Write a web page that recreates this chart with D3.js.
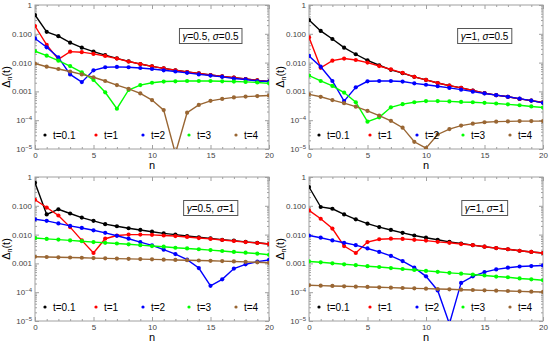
<!DOCTYPE html>
<html lang="en">
<head>
<meta charset="UTF-8">
<title>Delta_n(t) for several t</title>
<script src="https://d3js.org/d3.v7.min.js"></script>
<style>
    body {
        margin: 0;
        background: #fff;
        font-family: "Liberation Sans", Arial, sans-serif;
    }
    .frame { fill: none; stroke: #a0a0a0; stroke-width: 1; }
    .axis path.domain { display: none; }
    .axis line { stroke: #a0a0a0; }
    .axis text { font-size: 8px; fill: #444; font-family: "Liberation Sans", Arial, sans-serif; }
    .legend text { font-size: 10px; fill: #000; }
</style>
</head>
<body>
<svg id="chart" width="550" height="347"></svg>
<script>
const nValues = [0, 1, 2, 3, 4, 5, 6, 7, 8, 9, 10, 11, 12, 13, 14, 15, 16, 17, 18, 19, 20];
const seriesLabels = ["t=0.1", "t=1", "t=2", "t=3", "t=4"];
const seriesColors = ["#000000", "#ff0000", "#0000ff", "#00ff00", "#996633"];
const xTicks = [0, 5, 10, 15, 20];
const yTicks = [1, 0.1, 0.01, 0.001, 1e-4, 1e-5];
const yTickText = ["1", "0.100", "0.010", "0.001", "10^-4", "10^-5"];

// gamma=0.5, sigma=0.5
const p1_t01 = [4.5e-1, 1.17e-1, 8.3e-2, 4.9e-2, 3.3e-2, 2.4e-2, 1.82e-2, 1.41e-2, 1.10e-2, 8.9e-3, 7.4e-3, 6.3e-3, 5.4e-3, 4.7e-3, 4.2e-3, 3.7e-3, 3.3e-3, 3.0e-3, 2.7e-3, 2.4e-3, 2.2e-3];
const p1_t1 = [1.86e-1, 4.1e-2, 1.29e-2, 2.4e-2, 2.3e-2, 2.0e-2, 1.70e-2, 1.38e-2, 1.09e-2, 8.9e-3, 7.4e-3, 6.3e-3, 5.4e-3, 4.7e-3, 4.2e-3, 3.7e-3, 3.3e-3, 3.0e-3, 2.7e-3, 2.4e-3, 2.2e-3];
const p1_t2 = [6.9e-2, 3.4e-2, 1.51e-2, 3.9e-3, 2.1e-3, 5.4e-3, 6.9e-3, 7.1e-3, 6.9e-3, 6.5e-3, 6.0e-3, 5.4e-3, 4.9e-3, 4.4e-3, 3.9e-3, 3.55e-3, 3.2e-3, 2.8e-3, 2.6e-3, 2.3e-3, 2.2e-3];
const p1_t3 = [2.5e-2, 1.74e-2, 1.17e-2, 7.6e-3, 4.6e-3, 2.5e-3, 9.3e-4, 2.5e-4, 1.12e-3, 1.66e-3, 2.0e-3, 2.2e-3, 2.24e-3, 2.3e-3, 2.3e-3, 2.3e-3, 2.24e-3, 2.2e-3, 2.14e-3, 2.04e-3, 1.9e-3];
const p1_t4 = [9.3e-3, 7.2e-3, 6.0e-3, 4.9e-3, 3.9e-3, 3.1e-3, 2.3e-3, 1.66e-3, 1.23e-3, 8.5e-4, 5.0e-4, 2.24e-4, 7e-6, 1.82e-4, 3.4e-4, 4.7e-4, 5.5e-4, 6.2e-4, 6.6e-4, 6.9e-4, 7.2e-4];

// gamma=1, sigma=0.5
const p2_t01 = [3.0e-1, 1.26e-1, 6.6e-2, 3.3e-2, 1.95e-2, 1.20e-2, 8.1e-3, 5.6e-3, 4.3e-3, 3.2e-3, 2.5e-3, 1.95e-3, 1.58e-3, 1.32e-3, 1.07e-3, 8.7e-4, 7.4e-4, 6.5e-4, 5.5e-4, 4.8e-4, 4.1e-4];
const p2_t1 = [7.6e-2, 6.6e-3, 1.17e-2, 1.38e-2, 1.23e-2, 1.0e-2, 7.6e-3, 5.8e-3, 4.4e-3, 3.2e-3, 2.5e-3, 1.95e-3, 1.58e-3, 1.32e-3, 1.07e-3, 8.7e-4, 7.4e-4, 6.5e-4, 5.5e-4, 4.8e-4, 4.1e-4];
const p2_t2 = [1.70e-2, 7.2e-3, 2.3e-3, 4.6e-4, 1.38e-3, 2.24e-3, 2.3e-3, 2.3e-3, 2.2e-3, 1.9e-3, 1.70e-3, 1.51e-3, 1.32e-3, 1.15e-3, 9.8e-4, 8.5e-4, 7.4e-4, 6.5e-4, 5.6e-4, 4.8e-4, 4.0e-4];
const p2_t3 = [3.55e-3, 2.3e-3, 1.55e-3, 9.1e-4, 4.2e-4, 8.9e-5, 1.26e-4, 2.8e-4, 3.6e-4, 4.2e-4, 4.6e-4, 4.6e-4, 4.5e-4, 4.3e-4, 4.2e-4, 4.0e-4, 3.8e-4, 3.55e-4, 3.3e-4, 3.0e-4, 2.75e-4];
const p2_t4 = [7.9e-4, 6.5e-4, 5.0e-4, 3.9e-4, 2.95e-4, 2.1e-4, 1.45e-4, 9.5e-5, 5.5e-5, 1.78e-5, 1.07e-5, 3.2e-5, 4.9e-5, 6.5e-5, 7.6e-5, 8.5e-5, 8.9e-5, 9.1e-5, 9.3e-5, 9.3e-5, 9.3e-5];

// gamma=0.5, sigma=1
const p3_t01 = [6.3e-1, 5.0e-2, 7.6e-2, 5.4e-2, 3.9e-2, 3.0e-2, 2.3e-2, 1.95e-2, 1.66e-2, 1.45e-2, 1.26e-2, 1.10e-2, 1.0e-2, 8.9e-3, 8.1e-3, 7.4e-3, 6.6e-3, 6.2e-3, 5.6e-3, 5.2e-3, 4.7e-3];
const p3_t1 = [1.62e-1, 8.7e-2, 4.6e-2, 1.82e-2, 6.3e-3, 2.3e-3, 7.2e-3, 9.3e-3, 1.0e-2, 1.0e-2, 9.8e-3, 9.3e-3, 8.9e-3, 8.3e-3, 7.6e-3, 7.1e-3, 6.5e-3, 6.0e-3, 5.5e-3, 5.1e-3, 4.7e-3];
const p3_t2 = [3.4e-2, 3.0e-2, 2.45e-2, 2.0e-2, 1.70e-2, 1.41e-2, 1.15e-2, 9.1e-3, 7.2e-3, 5.5e-3, 4.2e-3, 3.0e-3, 2.1e-3, 1.35e-3, 6.9e-4, 1.66e-4, 2.8e-4, 6.6e-4, 9.3e-4, 1.15e-3, 1.32e-3];
const p3_t3 = [7.6e-3, 7.1e-3, 6.7e-3, 6.3e-3, 5.9e-3, 5.5e-3, 5.2e-3, 4.9e-3, 4.6e-3, 4.3e-3, 4.0e-3, 3.8e-3, 3.5e-3, 3.3e-3, 3.1e-3, 2.9e-3, 2.7e-3, 2.5e-3, 2.35e-3, 2.2e-3, 2.0e-3];
const p3_t4 = [1.70e-3, 1.67e-3, 1.63e-3, 1.60e-3, 1.57e-3, 1.53e-3, 1.50e-3, 1.47e-3, 1.44e-3, 1.41e-3, 1.38e-3, 1.35e-3, 1.32e-3, 1.29e-3, 1.26e-3, 1.23e-3, 1.20e-3, 1.17e-3, 1.13e-3, 1.09e-3, 1.05e-3];

// gamma=1, sigma=1
const p4_t01 = [4.5e-1, 9.1e-2, 7.9e-2, 5.0e-2, 3.4e-2, 2.4e-2, 1.82e-2, 1.45e-2, 1.15e-2, 9.3e-3, 7.8e-3, 6.6e-3, 5.6e-3, 4.9e-3, 4.3e-3, 3.8e-3, 3.4e-3, 3.1e-3, 2.75e-3, 2.5e-3, 2.3e-3];
const p4_t1 = [6.9e-2, 3.55e-2, 1.62e-2, 4.0e-3, 2.3e-3, 5.5e-3, 6.9e-3, 7.2e-3, 7.1e-3, 6.6e-3, 6.2e-3, 5.6e-3, 5.2e-3, 4.7e-3, 4.3e-3, 3.8e-3, 3.4e-3, 3.1e-3, 2.75e-3, 2.5e-3, 2.3e-3];
const p4_t2 = [9.3e-3, 7.8e-3, 6.3e-3, 5.2e-3, 4.3e-3, 3.3e-3, 2.5e-3, 1.82e-3, 1.20e-3, 7.1e-4, 3.55e-4, 1.15e-4, 8e-6, 2.1e-4, 3.55e-4, 5.0e-4, 6.2e-4, 7.1e-4, 7.8e-4, 8.1e-4, 8.5e-4];
const p4_t3 = [1.17e-3, 1.09e-3, 1.01e-3, 9.3e-4, 8.7e-4, 8.0e-4, 7.5e-4, 6.9e-4, 6.4e-4, 5.9e-4, 5.5e-4, 5.1e-4, 4.7e-4, 4.4e-4, 4.1e-4, 3.8e-4, 3.5e-4, 3.3e-4, 3.0e-4, 2.8e-4, 2.6e-4];
const p4_t4 = [1.74e-4, 1.69e-4, 1.65e-4, 1.60e-4, 1.56e-4, 1.52e-4, 1.48e-4, 1.44e-4, 1.40e-4, 1.36e-4, 1.33e-4, 1.29e-4, 1.26e-4, 1.22e-4, 1.19e-4, 1.16e-4, 1.13e-4, 1.10e-4, 1.07e-4, 1.04e-4, 1.02e-4];

const panelGammas = ["0.5", "1", "0.5", "1"];
const panelSigmas = ["0.5", "0.5", "1", "1"];

const plotW = 234, plotH = 144;
const panels = [
    { left: 35, top: 5, series: [p1_t01, p1_t1, p1_t2, p1_t3, p1_t4] },
    { left: 309, top: 5, series: [p2_t01, p2_t1, p2_t2, p2_t3, p2_t4] },
    { left: 35, top: 177, series: [p3_t01, p3_t1, p3_t2, p3_t3, p3_t4] },
    { left: 309, top: 177, series: [p4_t01, p4_t1, p4_t2, p4_t3, p4_t4] }
];
const legendOffsets = [10, 61, 108, 154, 201];

const svg = d3.select("#chart");

// minor tick positions
const xMinor = nValues.filter(n => n % 5 !== 0);
const yMinor = [];
for (let k = -5; k < 0; k++) {
    for (let m = 2; m <= 9; m++) yMinor.push(m * Math.pow(10, k));
}

function fixYLabels(sel) {
    sel.selectAll(".tick text").each(function (d) {
        const t = d3.select(this);
        const s = yTickText[yTicks.indexOf(d)];
        if (s.startsWith("10^")) {
            t.text("10");
            t.append("tspan").attr("dy", "-0.5em").style("font-size", "6px").text(s.slice(3).replace("-", "\u2212"));
        } else {
            t.text(s);
        }
    });
}

panels.forEach((p, pi) => {
    const g = svg.append("g").attr("transform", `translate(${p.left},${p.top})`);
    const x = d3.scaleLinear().domain([0, 20]).range([0, plotW]);
    const y = d3.scaleLog().domain([1e-5, 1]).range([plotH, 0]);

    g.append("clipPath").attr("id", "clip" + pi)
        .append("rect").attr("width", plotW).attr("height", plotH);

    // frame ticks on all sides, pointing inward
    const bottom = g.append("g").attr("class", "axis").attr("transform", `translate(0,${plotH})`);
    bottom.call(d3.axisBottom(x).tickValues(xTicks).tickSizeInner(-4).tickSizeOuter(0).tickPadding(3));
    bottom.append("g").call(d3.axisBottom(x).tickValues(xMinor).tickSizeInner(-2).tickSizeOuter(0).tickFormat(""));

    const top = g.append("g").attr("class", "axis");
    top.call(d3.axisTop(x).tickValues(xTicks).tickSizeInner(-4).tickSizeOuter(0).tickFormat(""));
    top.append("g").call(d3.axisTop(x).tickValues(xMinor).tickSizeInner(-2).tickSizeOuter(0).tickFormat(""));

    const left = g.append("g").attr("class", "axis");
    left.call(d3.axisLeft(y).tickValues(yTicks).tickSizeInner(-4).tickSizeOuter(0).tickPadding(3));
    left.call(fixYLabels);
    left.append("g").call(d3.axisLeft(y).tickValues(yMinor).tickSizeInner(-2).tickSizeOuter(0).tickFormat(""));

    const right = g.append("g").attr("class", "axis").attr("transform", `translate(${plotW},0)`);
    right.call(d3.axisRight(y).tickValues(yTicks).tickSizeInner(-4).tickSizeOuter(0).tickFormat(""));
    right.append("g").call(d3.axisRight(y).tickValues(yMinor).tickSizeInner(-2).tickSizeOuter(0).tickFormat(""));

    g.append("rect").attr("class", "frame").attr("width", plotW).attr("height", plotH);

    // axis titles
    g.append("text")
        .attr("x", plotW / 2).attr("y", plotH + 20)
        .attr("text-anchor", "middle")
        .style("font-size", "11px")
        .text("n");

    const yl = g.append("text")
        .attr("transform", `translate(-25,${plotH / 2}) rotate(-90)`)
        .attr("text-anchor", "middle")
        .style("font-size", "11px");
    yl.append("tspan").text("\u0394");
    yl.append("tspan").attr("dy", "2").style("font-size", "7px").text("n");
    yl.append("tspan").attr("dy", "-2").text("(t)");

    // series
    const plot = g.append("g").attr("clip-path", `url(#clip${pi})`);
    const line = d3.line().x((d, i) => x(nValues[i])).y(d => y(d));
    p.series.forEach((vals, si) => {
        plot.append("path")
            .attr("d", line(vals))
            .attr("fill", "none")
            .attr("stroke", seriesColors[si])
            .attr("stroke-width", 1.4);
        plot.selectAll(null).data(vals).enter()
            .append("circle")
            .attr("cx", (d, i) => x(nValues[i]))
            .attr("cy", d => y(d))
            .attr("r", 2.1)
            .attr("fill", seriesColors[si]);
    });

    // legend
    const legend = g.append("g").attr("class", "legend");
    seriesLabels.forEach((lab, si) => {
        legend.append("circle")
            .attr("cx", legendOffsets[si]).attr("cy", 130)
            .attr("r", 1.6).attr("fill", seriesColors[si]);
        legend.append("text")
            .attr("x", legendOffsets[si] + 8).attr("y", 130)
            .attr("dy", "0.35em")
            .text(lab);
    });

    // parameter box
    const box = g.append("g");
    const lbl = box.append("text")
        .attr("x", x(15)).attr("y", 31)
        .attr("dy", "0.35em")
        .attr("text-anchor", "middle")
        .style("font-size", "10px");
    lbl.append("tspan").style("font-style", "italic").text("\u03b3");
    lbl.append("tspan").text("=" + panelGammas[pi] + ", ");
    lbl.append("tspan").style("font-style", "italic").text("\u03c3");
    lbl.append("tspan").text("=" + panelSigmas[pi]);
    const bb = lbl.node().getBBox();
    box.insert("rect", "text")
        .attr("x", bb.x - 3).attr("y", 31 - 7.5)
        .attr("width", bb.width + 6).attr("height", 15)
        .attr("fill", "#fff").attr("stroke", "#555").attr("stroke-width", 1);
});
</script>
</body>
</html>
